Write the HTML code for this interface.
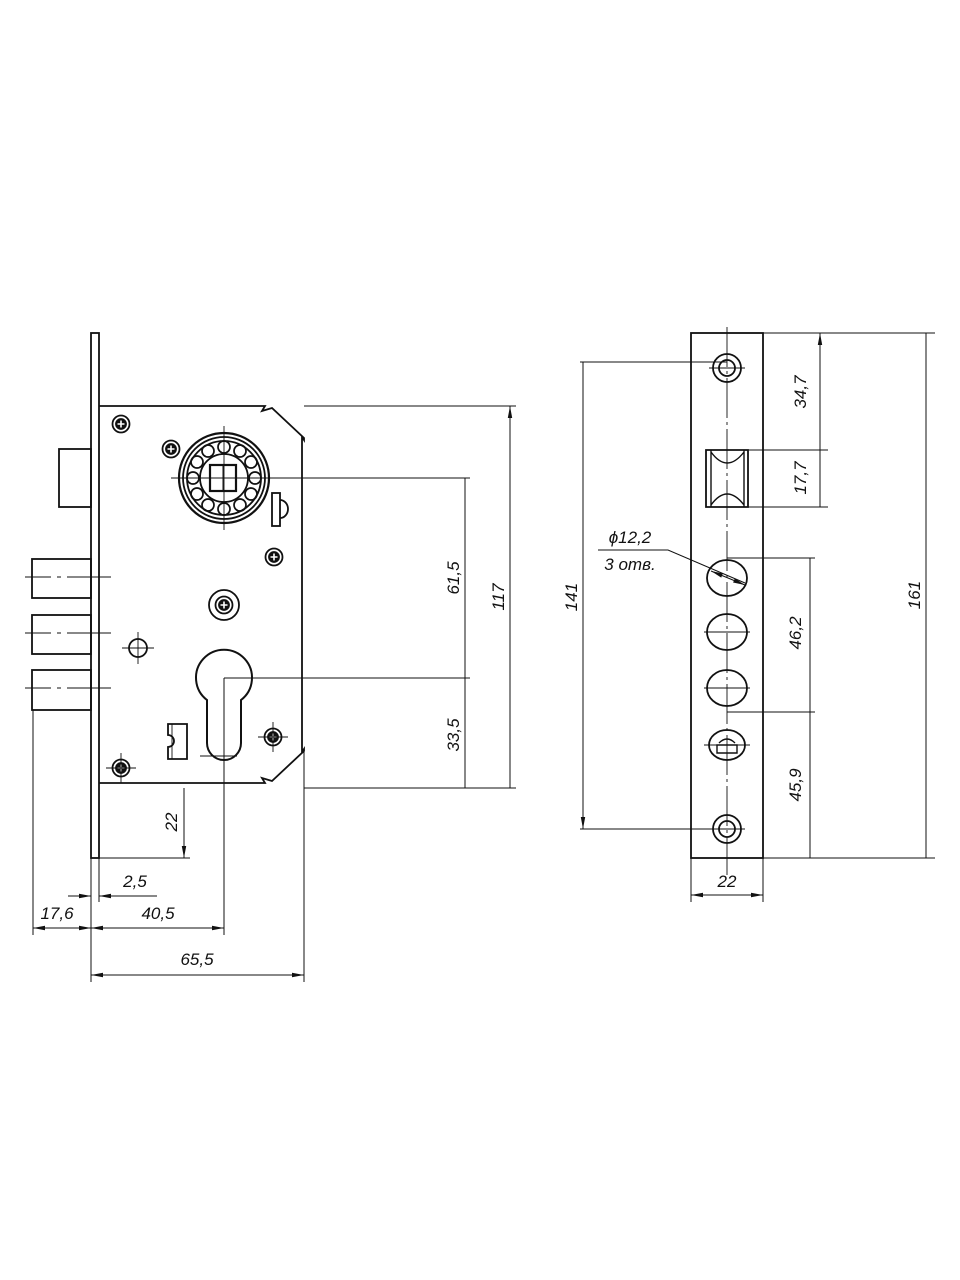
<!DOCTYPE html>
<html><head><meta charset="utf-8"><style>
html,body{margin:0;padding:0;background:#fff}
svg{display:block}
text{font-family:"Liberation Sans",sans-serif;font-style:italic;font-size:17px;fill:#111}
</style></head><body>
<svg width="960" height="1280" viewBox="0 0 960 1280" xmlns="http://www.w3.org/2000/svg">
<defs>
<marker id="a" markerWidth="12" markerHeight="6" refX="12" refY="3" orient="auto-start-reverse" markerUnits="userSpaceOnUse"><path d="M0,0.8 L12,3 L0,5.2z" fill="#111"/></marker>
<g id="scr"><circle r="8.5" fill="none" stroke="#111" stroke-width="1.8"/><circle r="5" fill="#111"/><path d="M-3.5,0H3.5M0,-3.5V3.5" stroke="#fff" stroke-width="1.6"/></g>
</defs>
<g fill="none" stroke="#111" stroke-width="1.8">
<rect x="91" y="333" width="8" height="525"/>
<path d="M99,406 H265 l-3,5 l10,-3 l32,30 v2 l-2,-3 v315 l2,-3 v2 l-32,30 l-10,-3 l3,5 H99"/>
<rect x="59" y="449" width="32" height="58"/>
<rect x="32" y="559" width="59" height="39"/>
<rect x="32" y="615" width="59" height="39"/>
<rect x="32" y="670" width="59" height="40"/>
<circle cx="224" cy="478" r="45" stroke-width="2.2"/>
<circle cx="224" cy="478" r="41"/>
<circle cx="224" cy="478" r="37"/>
<circle cx="224" cy="478" r="24"/>
<g stroke-width="1.7">
<circle cx="255" cy="478" r="6"/><circle cx="251" cy="494" r="6"/><circle cx="240" cy="505" r="6"/><circle cx="224" cy="509" r="6"/><circle cx="208" cy="505" r="6"/><circle cx="197" cy="494" r="6"/><circle cx="193" cy="478" r="6"/><circle cx="197" cy="462" r="6"/><circle cx="208" cy="451" r="6"/><circle cx="224" cy="447" r="6"/><circle cx="240" cy="451" r="6"/><circle cx="251" cy="462" r="6"/></g>
<rect x="210" y="465" width="26" height="26" stroke-width="2.2"/>
<path d="M223,465v26M210,478h26" stroke-width="1"/>
<path d="M224,426v104M171,478h133" stroke-width="0.9"/>
<rect x="272" y="493" width="8" height="33"/><path d="M280,500 a8,9 0 0 1 0,18"/>
<use href="#scr" x="121" y="424"/><use href="#scr" x="171" y="449"/><use href="#scr" x="274" y="557"/>
<use href="#scr" x="273" y="737"/><use href="#scr" x="121" y="768"/>
<circle cx="224" cy="605" r="15"/><use href="#scr" x="224" y="605"/>
<path d="M273,722v30M258,737h30M121,753v30M106,768h30" stroke-width="0.9"/>
<circle cx="138" cy="648" r="9"/><path d="M138,632v32M122,648h32" stroke-width="0.9"/>
<path d="M168,724h19v35h-19v-12 a6,6 0 0 0 0,-12z"/><path d="M172,724v35" stroke-width="0.9"/>
<path d="M207,700 A28,28 0 1 1 241,700 V743 A17,17 0 0 1 207,743 Z" stroke-width="2"/>
<path d="M224,678H304M200,756h37" stroke-width="0.9"/>
<path d="M25,577h26m6,0h4m6,0h44M25,633h26m6,0h4m6,0h44M25,688h26m6,0h4m6,0h44" stroke-width="0.9"/>
<g stroke-width="1">
<path d="M304,406H516M304,788H516M304,478H470M304,678H470"/>
<path d="M510,406V788M465,478V678M465,678V788M184,788V858" marker-start="url(#a)" marker-end="url(#a)"/>
<path d="M99,858H190"/>
<path d="M33,710V935M91,858V982M99,858V902M224,678V935M304,752V982"/>
<path d="M68,896H91" marker-end="url(#a)"/><path d="M157,896H99" marker-end="url(#a)"/>
<path d="M33,928H91" marker-start="url(#a)" marker-end="url(#a)"/>
<path d="M91,928H224" marker-start="url(#a)" marker-end="url(#a)"/>
<path d="M91,975H304" marker-start="url(#a)" marker-end="url(#a)"/>
</g>
<rect x="691" y="333" width="72" height="525"/>
<path d="M727,327V875" stroke-width="0.9" stroke-dasharray="40,4,3,4"/>
<circle cx="727" cy="368" r="14"/><circle cx="727" cy="368" r="8"/>
<circle cx="727" cy="829" r="14"/><circle cx="727" cy="829" r="8"/>
<path d="M706,450v57h42v-57z"/>
<path d="M711,450v57M744,450v57M711,452 q16,22 33,0M711,505 q16,-22 33,0" stroke-width="1.4"/>
<ellipse cx="727" cy="578" rx="20" ry="18"/>
<ellipse cx="727" cy="632" rx="20" ry="18"/>
<ellipse cx="727" cy="688" rx="20" ry="18"/>
<ellipse cx="727" cy="745" rx="18" ry="15"/>
<path d="M717,745h20v8h-20z M719,743 q8,-8 16,0" stroke-width="1.4"/>
<g stroke-width="1">
<path d="M704,632h46M704,688h46M704,745h46M709,368h36M709,829h36"/>
<path d="M763,333H935M748,450H828M748,507H828M727,558H815M727,712H815M763,858H935M580,362H727M580,829H727"/>
<path d="M820,333V450M820,450V507M810,558V712M810,712V858M926,333V858M583,362V829" marker-start="url(#a)" marker-end="url(#a)"/>
<path d="M691,858V902M763,858V902"/>
<path d="M691,895H763" marker-start="url(#a)" marker-end="url(#a)"/>
<path d="M598,550H668L745,583" />
<path d="M711,571L745,585" marker-start="url(#a)" marker-end="url(#a)"/>
</g>
</g>
<g>
<text transform="translate(459,578) rotate(-90)" text-anchor="middle">61,5</text>
<text transform="translate(459,735) rotate(-90)" text-anchor="middle">33,5</text>
<text transform="translate(504,597) rotate(-90)" text-anchor="middle">117</text>
<text transform="translate(177,822) rotate(-90)" text-anchor="middle">22</text>
<text x="135" y="887" text-anchor="middle">2,5</text>
<text x="57" y="919" text-anchor="middle">17,6</text>
<text x="158" y="919" text-anchor="middle">40,5</text>
<text x="197" y="965" text-anchor="middle">65,5</text>
<text transform="translate(577,597) rotate(-90)" text-anchor="middle">141</text>
<text transform="translate(806,392) rotate(-90)" text-anchor="middle">34,7</text>
<text transform="translate(806,478) rotate(-90)" text-anchor="middle">17,7</text>
<text transform="translate(801,633) rotate(-90)" text-anchor="middle">46,2</text>
<text transform="translate(801,785) rotate(-90)" text-anchor="middle">45,9</text>
<text transform="translate(920,595) rotate(-90)" text-anchor="middle">161</text>
<text x="727" y="887" text-anchor="middle">22</text>
<text x="630" y="543" text-anchor="middle">ϕ12,2</text>
<text x="630" y="570" text-anchor="middle">3 отв.</text>
</g>
</svg>
</body></html>
